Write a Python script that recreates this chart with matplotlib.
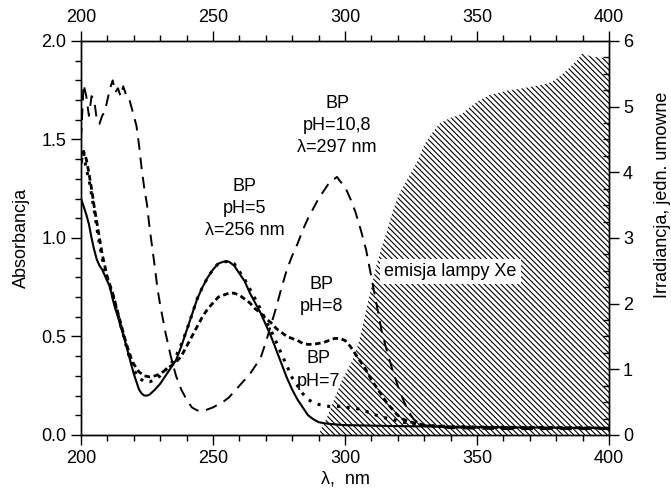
import matplotlib
matplotlib.use("Agg")
import matplotlib.pyplot as plt
import numpy as np
from matplotlib.ticker import MultipleLocator

plt.rcParams['font.family'] = ['Liberation Sans', 'DejaVu Sans']
plt.rcParams['hatch.linewidth'] = 0.8
plt.rcParams['font.size'] = 13

# pH = 10,8 (long dashes)
wl_108 = [200, 201, 202, 203, 204, 205, 206, 207, 208, 209, 210, 211, 212, 213, 214, 215, 216, 217, 218, 219,
          220, 221, 222, 223, 224, 225, 226, 227, 228, 229, 230, 232, 234, 236, 238, 240, 242, 244, 246, 248,
          250, 252, 254, 256, 258, 260, 262, 264, 266, 268, 270, 272, 274, 276, 278, 280, 282, 284, 286, 288,
          290, 292, 294, 296, 297, 298, 300, 302, 304, 306, 308, 310, 312, 314, 316, 318, 320, 322, 324, 326,
          328, 330, 335, 340, 350, 360, 370, 380, 390, 400]
abs_108 = [1.50, 1.78, 1.72, 1.62, 1.72, 1.70, 1.60, 1.58, 1.62, 1.64, 1.70, 1.76, 1.80, 1.74, 1.76, 1.72, 1.77, 1.73, 1.72, 1.67,
           1.62, 1.57, 1.47, 1.35, 1.25, 1.17, 1.05, 0.95, 0.85, 0.74, 0.66, 0.52, 0.40, 0.30, 0.23, 0.18, 0.14, 0.125, 0.12, 0.13,
           0.14, 0.155, 0.17, 0.19, 0.22, 0.25, 0.28, 0.31, 0.35, 0.39, 0.47, 0.56, 0.65, 0.75, 0.84, 0.91, 0.97, 1.04, 1.10, 1.15,
           1.20, 1.24, 1.28, 1.30, 1.31, 1.29, 1.26, 1.20, 1.13, 1.04, 0.94, 0.80, 0.66, 0.52, 0.42, 0.33, 0.25, 0.18, 0.12, 0.08,
           0.06, 0.05, 0.04, 0.035, 0.032, 0.03, 0.03, 0.03, 0.03, 0.03]

# pH = 5 (solid)
wl_5 = [200, 201, 202, 203, 204, 205, 206, 207, 208, 209, 210, 211, 212, 213, 214, 215, 216, 217, 218, 219,
        220, 221, 222, 223, 224, 225, 226, 228, 230, 232, 234, 236, 238, 240, 242, 244, 246, 248, 250, 252,
        254, 256, 258, 260, 262, 264, 266, 268, 270, 272, 274, 276, 278, 280, 282, 284, 286, 288, 290, 292,
        295, 300, 320, 350, 400]
abs_5 = [1.20, 1.16, 1.12, 1.07, 1.00, 0.94, 0.89, 0.86, 0.84, 0.81, 0.78, 0.75, 0.69, 0.64, 0.60, 0.55, 0.51, 0.46, 0.41, 0.36,
         0.31, 0.27, 0.23, 0.21, 0.20, 0.20, 0.205, 0.23, 0.26, 0.30, 0.34, 0.38, 0.45, 0.53, 0.61, 0.69, 0.75, 0.80, 0.84, 0.87,
         0.88, 0.88, 0.86, 0.82, 0.78, 0.72, 0.67, 0.62, 0.56, 0.50, 0.43, 0.36, 0.29, 0.23, 0.18, 0.14, 0.10, 0.08, 0.065, 0.06,
         0.055, 0.05, 0.045, 0.04, 0.035]

# pH = 8 (short dashes)
wl_8 = [200, 201, 202, 203, 204, 205, 206, 207, 208, 209, 210, 211, 212, 213, 214, 215, 216, 217, 218, 219,
        220, 222, 224, 226, 228, 230, 232, 234, 236, 238, 240, 242, 244, 246, 248, 250, 252, 254, 256, 258,
        260, 262, 264, 266, 268, 270, 272, 274, 276, 278, 280, 282, 284, 286, 288, 290, 292, 294, 296, 298,
        300, 302, 304, 306, 308, 310, 312, 314, 316, 318, 320, 322, 325, 330, 340, 400]
abs_8 = [1.38, 1.44, 1.40, 1.33, 1.25, 1.16, 1.08, 1.00, 0.92, 0.86, 0.80, 0.76, 0.72, 0.67, 0.62, 0.57, 0.52, 0.47, 0.43, 0.39,
         0.36, 0.32, 0.30, 0.295, 0.30, 0.31, 0.33, 0.35, 0.37, 0.40, 0.45, 0.50, 0.55, 0.60, 0.64, 0.67, 0.70, 0.71, 0.72, 0.72,
         0.71, 0.69, 0.67, 0.64, 0.62, 0.59, 0.57, 0.54, 0.52, 0.50, 0.49, 0.48, 0.465, 0.46, 0.46, 0.465, 0.47, 0.48, 0.49, 0.49,
         0.48, 0.45, 0.41, 0.37, 0.33, 0.28, 0.24, 0.20, 0.16, 0.13, 0.10, 0.08, 0.065, 0.05, 0.04, 0.035]

# pH = 7 (dots)
wl_7 = [200, 201, 202, 203, 204, 205, 206, 207, 208, 209, 210, 211, 212, 213, 214, 215, 216, 217, 218, 219,
        220, 222, 224, 226, 228, 230, 232, 234, 236, 238, 240, 242, 244, 246, 248, 250, 252, 254, 256, 258,
        260, 262, 264, 266, 268, 270, 272, 274, 276, 278, 280, 282, 284, 286, 288, 290, 292, 294, 296, 298,
        300, 302, 304, 306, 308, 310, 312, 314, 316, 318, 320, 324, 328, 335, 350, 400]
abs_7 = [1.38, 1.43, 1.35, 1.30, 1.22, 1.14, 1.05, 0.97, 0.90, 0.84, 0.79, 0.75, 0.71, 0.66, 0.61, 0.56, 0.51, 0.46, 0.41, 0.37,
         0.33, 0.29, 0.27, 0.27, 0.28, 0.30, 0.33, 0.36, 0.40, 0.46, 0.53, 0.61, 0.69, 0.75, 0.80, 0.84, 0.87, 0.88, 0.88, 0.87,
         0.83, 0.79, 0.74, 0.69, 0.64, 0.58, 0.53, 0.47, 0.41, 0.35, 0.29, 0.25, 0.21, 0.18, 0.165, 0.155, 0.15, 0.145, 0.145, 0.145,
         0.14, 0.14, 0.135, 0.13, 0.12, 0.11, 0.10, 0.09, 0.085, 0.08, 0.07, 0.06, 0.05, 0.045, 0.04, 0.035]

# Xe lamp irradiance (right axis)
wl_xe = [290, 291, 293, 295, 297, 299, 301, 303, 305, 306, 308, 310, 312, 314, 316, 318, 320, 322, 324, 326,
         328, 330, 333, 336, 340, 344, 347, 351, 355, 359, 362, 366, 370, 374, 378, 381, 385, 388, 390, 392,
         394, 398, 400]
irr_xe = [0.0, 0.1, 0.25, 0.45, 0.65, 0.85, 1.0, 1.15, 1.38, 1.55, 1.9, 2.25, 2.6, 2.88, 3.12, 3.4, 3.62, 3.78, 3.92, 4.06,
          4.22, 4.42, 4.6, 4.75, 4.83, 4.88, 4.98, 5.1, 5.18, 5.22, 5.25, 5.27, 5.3, 5.33, 5.37, 5.45, 5.59, 5.71, 5.82, 5.78,
          5.76, 5.74, 5.70]

fig = plt.figure(figsize=(6.71, 4.92), dpi=100)
ax = fig.add_axes([0.1207, 0.1159, 0.7869, 0.8008])
ax2 = ax.twinx()

ax2.fill_between(wl_xe, 0, irr_xe, facecolor='none', edgecolor='black', hatch='\\\\\\\\\\\\', linewidth=0)
ax2.set_ylim(0, 6)
ax2.yaxis.set_major_locator(MultipleLocator(1))
ax2.yaxis.set_minor_locator(MultipleLocator(0.25))
ax2.tick_params(axis='y', which='major', direction='out', length=7, width=1, labelsize=13, pad=3)
ax2.tick_params(axis='y', which='minor', direction='in', length=4, width=1)
ax2.set_ylabel('Irradiancja, jedn. umowne', fontsize=13, labelpad=14)
ax2.yaxis.set_label_coords(1.085, 0.61)

ax.set_zorder(ax2.get_zorder() + 1)
ax.patch.set_visible(False)

ax.plot(wl_108, abs_108, color='black', lw=1.4, dashes=(6, 4))
ax.plot(wl_5, abs_5, color='black', lw=1.5)
ax.plot(wl_8, abs_8, color='black', lw=2.0, dashes=(2, 1.3))
ax.plot(wl_7, abs_7, color='black', lw=2.2, dashes=(1, 2.2))

ax.set_xlim(200, 400)
ax.set_ylim(0, 2.0)
ax.xaxis.set_major_locator(MultipleLocator(50))
ax.xaxis.set_minor_locator(MultipleLocator(10))
ax.yaxis.set_major_locator(MultipleLocator(0.5))
ax.yaxis.set_minor_locator(MultipleLocator(0.1))
ax.yaxis.set_major_formatter(matplotlib.ticker.FormatStrFormatter('%.1f'))
ax.tick_params(axis='both', which='major', direction='out', length=7, width=1, labelsize=13,
               top=True, labeltop=True)
ax.tick_params(axis='both', which='minor', direction='out', length=4, width=1, top=True)
ax.set_xlabel('λ,  nm', fontsize=13, labelpad=3)
ax.set_ylabel('Absorbancja', fontsize=13, labelpad=8)

for sp in list(ax.spines.values()) + list(ax2.spines.values()):
    sp.set_linewidth(1.0)

ax.text(297, 1.57, 'BP\npH=10,8\nλ=297 nm', ha='center', va='center', fontsize=13, linespacing=1.4)
ax.text(262, 1.15, 'BP\npH=5\nλ=256 nm', ha='center', va='center', fontsize=13, linespacing=1.4)
ax.text(291, 0.71, 'BP\npH=8', ha='center', va='center', fontsize=13, linespacing=1.4)
ax.text(290, 0.33, 'BP\npH=7', ha='center', va='center', fontsize=13, linespacing=1.4)
ax.text(340, 0.83, 'emisja lampy Xe', ha='center', va='center', fontsize=13,
        bbox=dict(facecolor='white', edgecolor='none', pad=3))

fig.savefig('out.png', dpi=100)
